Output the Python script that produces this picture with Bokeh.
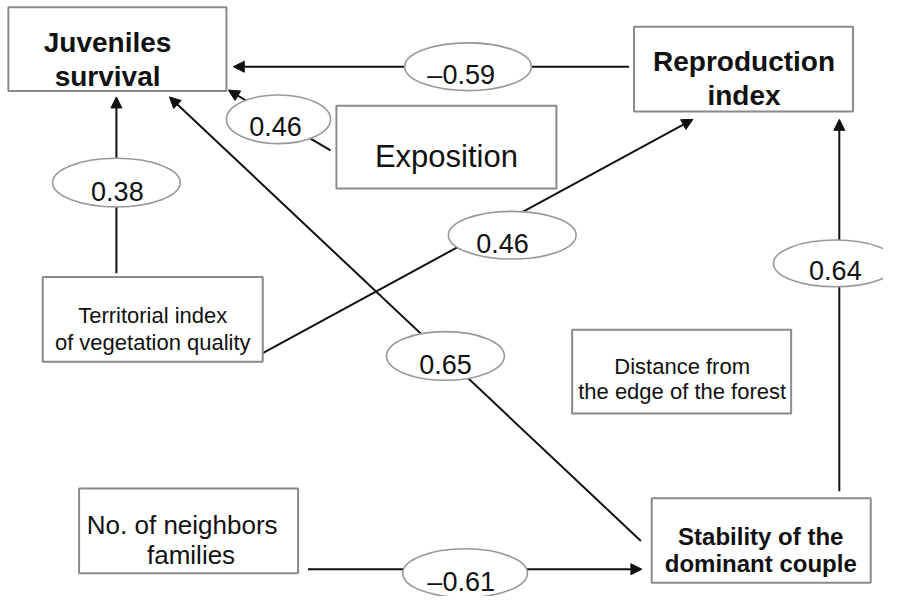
from bokeh.plotting import figure
from bokeh.models import Range1d, Arrow, NormalHead, ColumnDataSource
from bokeh.core.properties import value
from bokeh.embed import file_html
from bokeh.resources import INLINE

# ---- path coefficients (ellipse labels) ----
coef_labels = ["\u20130.59", "0.46", "0.38", "0.46", "0.65", "0.64", "\u20130.61"]
coef_cx = [476, 283, 118, 521, 453, 850, 473]
coef_cy = [68, 122, 187, 241, 365, 270, 588]
coef_w = [129, 106, 130, 130, 120, 126, 127]
coef_h = [49, 50, 50, 49, 50, 48, 50]
coef_tx = [469, 280, 119, 511, 453, 850, 469]
coef_ty = [77, 129, 196, 250, 374, 277, 597]

# ---- variable boxes ----
box_left = [8, 645, 342, 43, 582, 80, 663]
box_right = [230, 868, 566, 267, 805, 303, 886]
box_top = [7, 27, 108, 284, 338, 501, 511]
box_bottom = [93, 114, 193, 371, 424, 588, 598]

# ---- box texts ----
line_text = ["Juveniles", "survival", "Reproduction", "index", "Exposition",
             "Territorial index", "of vegetation quality",
             "Distance from", "the edge of the forest",
             "No. of neighbors", "families",
             "Stability of the", "dominant couple"]
line_x = [109, 109, 757, 757, 454, 155, 155, 694, 694, 185, 194, 774, 774]
line_y = [43, 78, 63, 98, 160, 323, 351, 376, 402, 539, 569, 550, 578]
line_size = ["28px", "28px", "28px", "28px", "31px", "22px", "22px", "22px", "22px",
             "26px", "26px", "24px", "24px"]
line_style = ["bold"] * 4 + ["normal"] * 7 + ["bold"] * 2

# ---- paths (arrows) ----
arr_x0 = [640, 336, 118, 267, 652, 854, 313]
arr_y0 = [68, 154, 280, 362, 555, 504, 584]
arr_x1 = [237, 232, 118, 705, 172, 854, 653]
arr_y1 = [68, 92, 99, 122, 99, 122, 584]

p = figure(width=883, height=596, output_backend="svg", toolbar_location=None,
           x_range=Range1d(0, 899), y_range=Range1d(612, 0),
           min_border=0, background_fill_color="white", border_fill_color="white")
p.axis.visible = False
p.grid.visible = False
p.outline_line_color = None

arrows = Arrow(x_start="x0", y_start="y0", x_end="x1", y_end="y1",
               source=ColumnDataSource(dict(x0=arr_x0, y0=arr_y0, x1=arr_x1, y1=arr_y1)),
               line_color="#111111", line_width=2,
               end=NormalHead(size=11, fill_color="#111111", line_color="#111111", line_width=1),
               level="underlay")
p.add_layout(arrows)

p.quad(left=box_left, right=box_right, top=box_top, bottom=box_bottom,
       fill_color="white", line_color="#8a8a8a", line_width=2)

p.ellipse(x=coef_cx, y=coef_cy, width=coef_w, height=coef_h,
          fill_color="white", line_color="#999999", line_width=1.6)

p.text(x=coef_tx, y=coef_ty, text=coef_labels, text_font=value("Liberation Sans"),
       text_font_size="27px", text_align="center", text_baseline="alphabetic",
       text_color="#111111")

src = ColumnDataSource(dict(x=line_x, y=line_y, t=line_text, s=line_size, st=line_style))
p.text(x="x", y="y", text="t", source=src, text_font=value("Liberation Sans"),
       text_font_size="s", text_font_style="st", text_align="center",
       text_baseline="alphabetic", text_color="#111111")

open("out.html", "w").write(file_html(p, INLINE))
